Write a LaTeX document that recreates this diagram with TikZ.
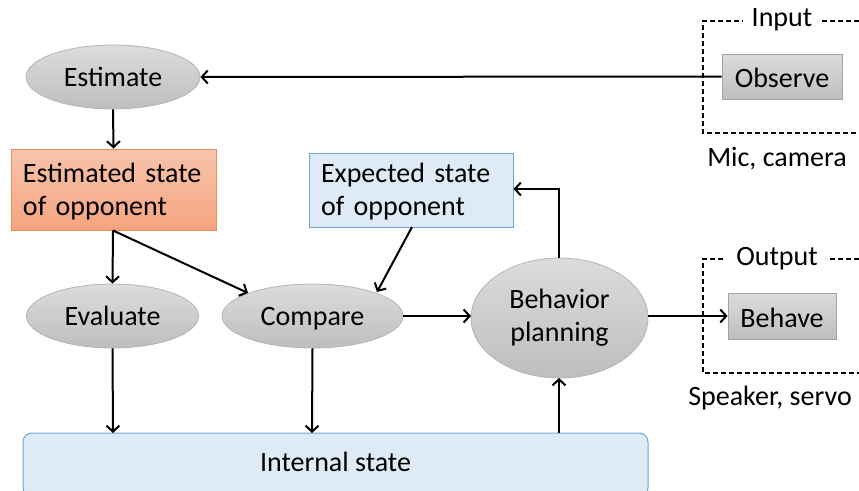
\documentclass[tikz,border=0pt]{standalone}
\usepackage{fontspec}
\setmainfont{Carlito}
\usetikzlibrary{arrows.meta,shapes.geometric,shadings}
\definecolor{grayTop}{HTML}{DCDCDC}
\definecolor{grayBot}{HTML}{BEBEBE}
\definecolor{grayLine}{HTML}{B4B4B4}
\definecolor{orTop}{HTML}{F8C4AC}
\definecolor{orBot}{HTML}{F4A47F}
\definecolor{orLine}{HTML}{EE8A55}
\definecolor{blFill}{HTML}{DEEBF7}
\definecolor{blLine}{HTML}{6FA6DA}
\tikzset{
  lbl/.style={font=\fontsize{28}{33}\selectfont, text=black},
  one/.style={text height=21pt, text depth=2pt},
  oval/.style={ellipse, lbl, draw=grayLine, line width=0.8pt, top color=grayTop, bottom color=grayBot, inner sep=0pt, align=center},
  graybox/.style={rectangle, lbl, one, draw=grayLine!90!black, line width=0.8pt, top color=grayTop, bottom color=grayBot, inner sep=0pt},
  orbox/.style={rectangle, draw=orLine, line width=1pt, top color=orTop, bottom color=orBot, inner sep=0pt},
  blbox/.style={rectangle, draw=blLine, line width=1pt, fill=blFill, inner sep=0pt},
  boxtext/.style={lbl, align=left, inner sep=0pt},
  arr/.style={line width=2pt, -{Straight Barb[length=6pt,width=13pt,line width=2pt]}},
  frame/.style={line width=1.1pt, dash pattern=on 5pt off 3pt},
}
\begin{document}
\begin{tikzpicture}[x=1pt,y=-1pt]
\useasboundingbox (0,0) rectangle (859,490);

% io frames
\draw[frame] (859,21) -- (703,21) -- (703,133) -- (859,133);
\node[lbl, one, fill=white, inner xsep=9pt, inner ysep=0pt] (inlab) at (782,17) {Input};
\node[lbl, one] (mic) at (777,157) {Mic, camera};
\draw[frame] (859,259) -- (703,259) -- (703,373) -- (859,373);
\node[lbl, one, fill=white, inner xsep=10pt, inner ysep=0pt] (outlab) at (777,256) {Output};
\node[lbl, one] (spk) at (770,395.5) {Speaker, servo};

% internal state panel
\begin{scope}
\clip (0,0) rectangle (859,490);
\node[rectangle, rounded corners=9pt, draw=blLine, line width=1pt, fill=blFill,
      minimum width=625pt, minimum height=64pt, inner sep=0pt] (internal) at (335.5,465) {};
\end{scope}
\node[lbl, one] (intlab) at (335.5,462) {Internal state};

% nodes
\node[oval, one, minimum width=174pt, minimum height=64pt] (estimate) at (113,77) {Estimate};
\node[graybox, minimum width=120pt, minimum height=45pt] (observe) at (782,76.5) {};
\node[lbl, one] (obslab) at (782,78) {Observe};
\node[orbox, minimum width=205pt, minimum height=81pt] (est) at (113.5,189.5) {};
\node[boxtext, text width=181pt] (estlab) at (113.5,191.5) {Estimated state\\of opponent};
\node[blbox, minimum width=204pt, minimum height=74pt] (exp) at (411,190) {};
\node[boxtext, text width=180pt] (explab) at (411,191.5) {Expected state\\of opponent};
\node[oval, one, minimum width=172pt, minimum height=64pt] (evaluate) at (112.5,316) {Evaluate};
\node[oval, one, minimum width=181pt, minimum height=64pt] (compare) at (312.5,316) {Compare};
\node[oval, minimum width=177pt, minimum height=120pt] (plan) at (559.5,318) {Behavior\\planning};
\node[graybox, minimum width=108pt, minimum height=46pt] (behave) at (782,316) {};
\node[lbl, one] (behlab) at (782,318) {Behave};

% anchor points on the shapes
\coordinate (estS) at (113,230.5);
\coordinate (expS) at (412,227);
\coordinate (cmpIn) at (248,293);
\coordinate (cmpIn2) at (377,292);
\coordinate (cmpR) at (403,316);
\coordinate (planL) at (471,316);
\coordinate (planT) at (559,258);
\coordinate (planB) at (559,378);
\coordinate (planR) at (648,316);
\coordinate (expE) at (513.5,189);
\coordinate (intEv) at (113,433);
\coordinate (intCp) at (312,433);
\coordinate (intPl) at (559,433);

% connectors
\draw[arr] (observe.west) -- (estimate.east);
\draw[arr] (estimate.south) -- (est.north);
\draw[arr] (estS) -- (evaluate.north);
\draw[arr] (estS) -- (cmpIn);
\draw[arr] (expS) -- (cmpIn2);
\draw[arr] (cmpR) -- (planL);
\draw[arr] (planT) |- (expE);
\draw[arr] (planR) -- (behave.west);
\draw[arr] (evaluate.south) -- (intEv);
\draw[arr] (compare.south) -- (intCp);
\draw[arr] (intPl) -- (planB);
\end{tikzpicture}
\end{document}
